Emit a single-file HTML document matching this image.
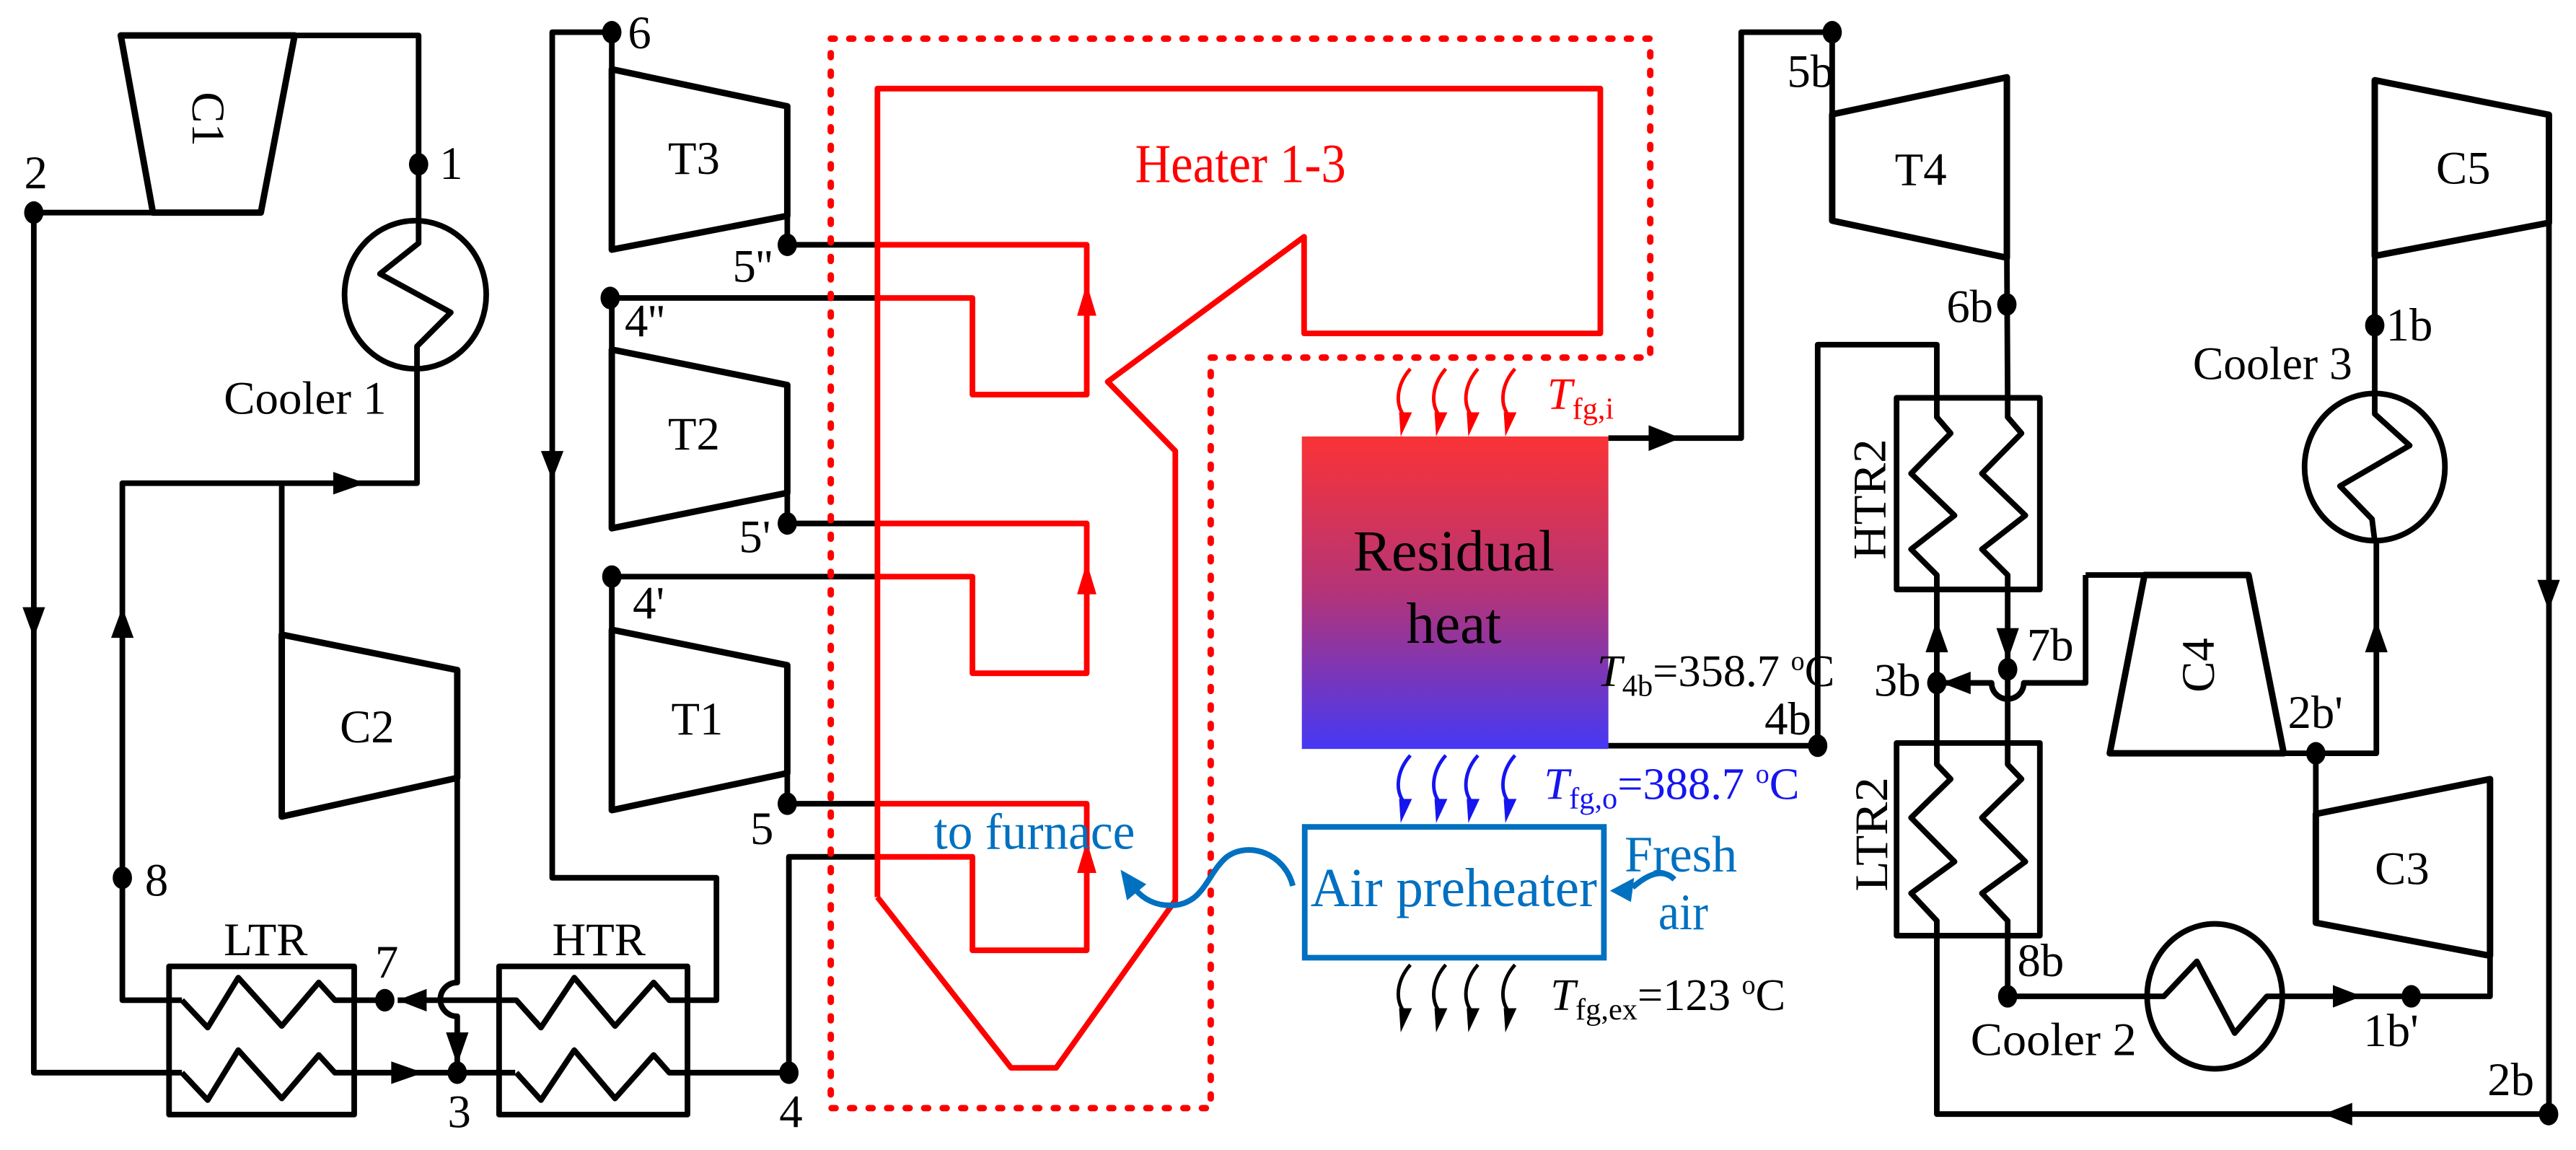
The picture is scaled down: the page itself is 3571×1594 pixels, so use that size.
<!DOCTYPE html>
<html><head><meta charset="utf-8"><style>
html,body{margin:0;padding:0;background:#fff;}
svg{display:block;}
svg text{font-family:"Liberation Serif","DejaVu Serif",serif;}
</style></head><body>
<svg width="3571" height="1594" viewBox="0 0 1600 714" preserveAspectRatio="none" xmlns="http://www.w3.org/2000/svg" font-family="'Liberation Serif', 'DejaVu Serif', serif">
<defs>
<linearGradient id="rg" x1="0" y1="0" x2="0" y2="1">
<stop offset="0" stop-color="#fa3336"/>
<stop offset="0.5" stop-color="#b33478"/>
<stop offset="1" stop-color="#4638f4"/>
</linearGradient>
</defs>
<rect width="1600" height="714" fill="#fff"/>

<g fill="none" stroke="#000" stroke-width="3.5" stroke-linejoin="round">
<polygon points="75,22 183,22 162,132 95,132" stroke-width="4"/>
<polyline points="183,22 260,22 260,138"/>
<polyline points="21,132 95,132"/>
<polyline points="21,132 21,666 113,666"/>
<ellipse cx="258" cy="183" rx="44" ry="46"/>
<polyline points="260,138 260,151 236,170 280,194 259,215 259,300 76,300 76,621 113,621"/>
<line x1="175" y1="300" x2="175" y2="394"/>
<polygon points="175,394 284,416 284,483 175,507" stroke-width="4"/>
<path d="M284 483 V610 A10.5 10.5 0 0 0 284 631 V660"/>
<rect x="105" y="600" width="115" height="92"/>
<polyline points="113,621 129,638 148,607 175,637 198,610 208,621 239,621"/>
<polyline points="113,666 129,683 148,652 175,682 198,655 208,666 320,666"/>
<rect x="310" y="600" width="117" height="92"/>
<polyline points="247,621 320.7,621 336,638 356.7,607 382,637 406,610 415.7,621 445,621 445,545 343,545 343,20 380,20 380,43"/>
<polyline points="320.7,666 336,683 356.7,652 382,682 406,655 415.7,666 490,666 490,532 545,532"/>
<polygon points="380,43 489,66 489,134 380,155" stroke-width="4"/>
<polyline points="489,134 489,152 545,152"/>
<polyline points="545,185 380,185 380,217"/>
<polygon points="380,217 489,239 489,306 380,328" stroke-width="4"/>
<polyline points="489,306 489,325 545,325"/>
<polyline points="545,358 380,358 380,391"/>
<polygon points="380,391 489,413 489,480 380,503" stroke-width="4"/>
<polyline points="489,480 489,499 545,499"/>
</g>
<g fill="#000">
<polygon points="21,396 14,377 28,377"/>
<polygon points="76,377 69,396 83,396"/>
<polygon points="227,300 207,293 207,307"/>
<polygon points="343,298 336,280 350,280"/>
<polygon points="247,621 265,614 265,628"/>
<polygon points="284,661 277,641 291,641"/>
<polygon points="263,666 243,659 243,673"/>
</g>
<g fill="#000">
<ellipse cx="21" cy="132" rx="6" ry="7"/>
<ellipse cx="260" cy="102" rx="6" ry="7"/>
<ellipse cx="380" cy="20" rx="6" ry="7"/>
<ellipse cx="489" cy="152" rx="6" ry="7"/>
<ellipse cx="379" cy="185" rx="6" ry="7"/>
<ellipse cx="489" cy="325" rx="6" ry="7"/>
<ellipse cx="380" cy="358" rx="6" ry="7"/>
<ellipse cx="489" cy="499" rx="6" ry="7"/>
<ellipse cx="76" cy="545" rx="6" ry="7"/>
<ellipse cx="239" cy="621" rx="6" ry="7"/>
<ellipse cx="284" cy="666" rx="6" ry="7"/>
<ellipse cx="490" cy="666" rx="6" ry="7"/>
</g>
<g font-size="29" fill="#000">
<text x="15" y="117">2</text>
<text x="273" y="111">1</text>
<text x="390" y="30">6</text>
<text x="455" y="175">5''</text>
<text x="388" y="209">4''</text>
<text x="459" y="343">5'</text>
<text x="393" y="384">4'</text>
<text x="466" y="524">5</text>
<text x="90" y="556">8</text>
<text x="233" y="607">7</text>
<text x="278" y="700">3</text>
<text x="484" y="700">4</text>
<text x="431" y="108" text-anchor="middle">T3</text>
<text x="431" y="279" text-anchor="middle">T2</text>
<text x="433" y="456" text-anchor="middle">T1</text>
<text x="228" y="461" text-anchor="middle">C2</text>
<text x="165" y="593" text-anchor="middle">LTR</text>
<text x="372" y="593" text-anchor="middle">HTR</text>
<text x="139" y="257" textLength="101" lengthAdjust="spacingAndGlyphs">Cooler 1</text>
<text transform="translate(129.6,74) rotate(90)" x="0" y="10" text-anchor="middle">C1</text>
</g>

<path d="M516 24 H1025 V222 H752 V688 H516 Z" fill="none" stroke="#ff0000" stroke-width="4" stroke-dasharray="2.5 9" stroke-linecap="round"/>
<g fill="none" stroke="#ff0000" stroke-width="3.5" stroke-linejoin="round">
<polyline points="545,557 545,55 994,55 994,207 810,207 810,147 688,237 730,280 730,559 656,663 628,663 545,557"/>
<polyline points="545,152 675,152 675,245 604,245 604,185 545,185"/>
<polyline points="545,325 675,325 675,418 604,418 604,358 545,358"/>
<polyline points="545,499 675,499 675,590 604,590 604,532 545,532"/>
</g>
<g fill="#ff0000">
<polygon points="675,176 669,196 681,196"/>
<polygon points="675,349 669,369 681,369"/>
<polygon points="675,522 669,542 681,542"/>
</g>
<text x="705" y="113" font-size="34" fill="#ff0000" textLength="131" lengthAdjust="spacingAndGlyphs">Heater 1-3</text>

<rect x="808.6" y="271" width="190.4" height="194" fill="url(#rg)"/>
<text x="903" y="354" font-size="36" text-anchor="middle" textLength="125" lengthAdjust="spacingAndGlyphs">Residual</text>
<text x="903" y="399" font-size="36" text-anchor="middle" textLength="59" lengthAdjust="spacingAndGlyphs">heat</text>

<g fill="none" stroke-width="2.2">
<g stroke="#ff0000">
<path d="M876 229 C868 238,866 250,872 258"/>
<path d="M898 229 C890 238,888 250,894 258"/>
<path d="M918 229 C910 238,908 250,914 258"/>
<path d="M941 229 C933 238,931 250,937 258"/>
</g>
<g stroke="#1515f0">
<path d="M876 469 C868 478,866 490,872 498"/>
<path d="M898 469 C890 478,888 490,894 498"/>
<path d="M918 469 C910 478,908 490,914 498"/>
<path d="M941 469 C933 478,931 490,937 498"/>
</g>
<g stroke="#000">
<path d="M876 599 C868 608,866 620,872 628"/>
<path d="M898 599 C890 608,888 620,894 628"/>
<path d="M918 599 C910 608,908 620,914 628"/>
<path d="M941 599 C933 608,931 620,937 628"/>
</g>
</g>
<g fill="#ff0000">
<polygon points="869,256 877,256 870,271"/><polygon points="891,256 899,256 892,271"/><polygon points="911,256 919,256 912,271"/><polygon points="934,256 942,256 935,271"/>
</g>
<g fill="#1515f0">
<polygon points="869,496 877,496 870,511"/><polygon points="891,496 899,496 892,511"/><polygon points="911,496 919,496 912,511"/><polygon points="934,496 942,496 935,511"/>
</g>
<g fill="#000">
<polygon points="869,626 877,626 870,641"/><polygon points="891,626 899,626 892,641"/><polygon points="911,626 919,626 912,641"/><polygon points="934,626 942,626 935,641"/>
</g>
<text x="961" y="254" font-size="28" fill="#ff0000"><tspan font-style="italic">T</tspan><tspan font-size="19" dy="6">fg,i</tspan></text>
<text x="959" y="496" font-size="28" fill="#1515f0"><tspan font-style="italic">T</tspan><tspan font-size="19" dy="6">fg,o</tspan><tspan dy="-6">=388.7 </tspan><tspan font-size="17" dy="-10">o</tspan><tspan dy="10">C</tspan></text>
<text x="963" y="627" font-size="28" fill="#000"><tspan font-style="italic">T</tspan><tspan font-size="19" dy="6">fg,ex</tspan><tspan dy="-6">=123 </tspan><tspan font-size="17" dy="-10">o</tspan><tspan dy="10">C</tspan></text>
<text x="992" y="426" font-size="28" fill="#000"><tspan font-style="italic">T</tspan><tspan font-size="19" dy="6">4b</tspan><tspan dy="-6">=358.7 </tspan><tspan font-size="17" dy="-10">o</tspan><tspan dy="10">C</tspan></text>

<rect x="810.4" y="513.4" width="185.8" height="81.2" fill="none" stroke="#0070c0" stroke-width="3.5"/>
<text x="814" y="562.6" font-size="34" fill="#0070c0" textLength="178" lengthAdjust="spacingAndGlyphs">Air preheater</text>
<text x="580" y="527" font-size="32" fill="#0070c0" textLength="125" lengthAdjust="spacingAndGlyphs">to furnace</text>
<text x="1009" y="541" font-size="32" fill="#0070c0" textLength="70" lengthAdjust="spacingAndGlyphs">Fresh</text>
<text x="1030" y="577" font-size="32" fill="#0070c0" textLength="31" lengthAdjust="spacingAndGlyphs">air</text>
<g fill="none" stroke="#0070c0" stroke-width="3.5">
<path d="M803 550 C798 530,776 522,762 532 C750 542,748 560,730 562 C718 563,710 558,705 552"/>
<path d="M1040 546 C1032 538,1022 544,1014 551"/>
</g>
<g fill="#0070c0">
<polygon points="696,540 712,549 700,559"/>
<polygon points="1000,553 1015,545 1013,560"/>
</g>

<g fill="none" stroke="#000" stroke-width="3.5" stroke-linejoin="round">
<polyline points="999,272 1081.5,272 1081.5,20 1138,20 1138,71"/>
<polygon points="1138,71 1246.5,48 1246.5,160 1138,137" stroke-width="4"/>
<polyline points="1246.5,160 1247,247"/>
<rect x="1178" y="247" width="89" height="119"/>
<polyline points="1129,463 1129,214 1203,214 1203,259 1211.6,269 1187,294 1214,320 1187,341 1203,357 1203,474.6 1211.6,483.7 1187,507.7 1214,535 1187,554.6 1203,571.7 1203,691.7 1583,691.7"/>
<polyline points="1247,247 1247,259 1255.6,269 1231,294 1258,320 1231,341 1247,357 1247,474.6 1255.6,483.7 1231,507.7 1258,535 1231,554.6 1247,571.7 1247,618.6 1344,618.6 1364.5,596.9 1388,641.4 1408,618.6 1546.6,618.6 1546.6,483.7"/>
<rect x="1178" y="461.3" width="89" height="119.6"/>
<polyline points="999,463 1129,463"/>
<path d="M1295.4 357 V424 H1257 A10 10 0 0 1 1237 424 H1206"/>
<polygon points="1332,357 1396.6,357 1418.5,467.7 1310.4,467.7" stroke-width="4"/>
<polyline points="1295.4,357 1332,357"/>
<polyline points="1418.5,467.7 1476,467.7 1476,335"/>
<polygon points="1438.4,505.4 1546.6,483.7 1546.6,593.4 1438.4,572.9" stroke-width="4"/>
<polyline points="1438.4,467.7 1438.4,505.4"/>
<ellipse cx="1375.6" cy="618.6" rx="42" ry="45"/>
<ellipse cx="1475" cy="290" rx="43.6" ry="45.7"/>
<polyline points="1475,160 1475,257 1496.7,276.6 1453.4,301.8 1473.3,322.3 1475,336"/>
<polygon points="1475,49.8 1583.2,71.3 1583.2,138.3 1475,158.9" stroke-width="4"/>
<polyline points="1583.2,138.3 1583.2,691.7"/>
</g>
<g fill="#000">
<polygon points="1044,272 1024,264 1024,280"/>
<polygon points="1203,385 1196,405 1210,405"/>
<polygon points="1206,424 1224,417 1224,431"/>
<polygon points="1247,410 1240,390 1254,390"/>
<polygon points="1476,385 1469,405 1483,405"/>
<polygon points="1467,618.6 1449,611.6 1449,625.6"/>
<polygon points="1443,691.7 1461,684.7 1461,698.7"/>
<polygon points="1583,379 1576,360 1590,360"/>
<ellipse cx="1138" cy="20" rx="6" ry="7"/>
<ellipse cx="1246.5" cy="189" rx="6" ry="7"/>
<ellipse cx="1129" cy="463" rx="6" ry="7"/>
<ellipse cx="1203" cy="424" rx="6" ry="7"/>
<ellipse cx="1247" cy="415.6" rx="6" ry="7"/>
<ellipse cx="1438.4" cy="467.7" rx="6" ry="7"/>
<ellipse cx="1247" cy="618.6" rx="6" ry="7"/>
<ellipse cx="1497.7" cy="618.6" rx="6" ry="7"/>
<ellipse cx="1583" cy="691.7" rx="6" ry="7"/>
<ellipse cx="1475" cy="202" rx="6" ry="7"/>
</g>
<g font-size="29" fill="#000">
<text x="1110" y="54">5b</text>
<text x="1193" y="115" text-anchor="middle">T4</text>
<text x="1209" y="200">6b</text>
<text x="1530" y="114" text-anchor="middle">C5</text>
<text x="1482" y="211.5">1b</text>
<text x="1362" y="235.5" textLength="99" lengthAdjust="spacingAndGlyphs">Cooler 3</text>
<text x="1096" y="456">4b</text>
<text x="1164" y="432">3b</text>
<text x="1259" y="410">7b</text>
<text x="1421" y="452">2b'</text>
<text x="1492" y="549" text-anchor="middle">C3</text>
<text x="1253" y="606">8b</text>
<text x="1468" y="649.5">1b'</text>
<text x="1224" y="655" textLength="103" lengthAdjust="spacingAndGlyphs">Cooler 2</text>
<text x="1545" y="680">2b</text>
<text transform="translate(1171,310) rotate(-90)" x="0" y="0" text-anchor="middle" textLength="75" lengthAdjust="spacingAndGlyphs">HTR2</text>
<text transform="translate(1172,518) rotate(-90)" x="0" y="0" text-anchor="middle" textLength="71" lengthAdjust="spacingAndGlyphs">LTR2</text>
<text transform="translate(1375,413) rotate(-90)" x="0" y="0" text-anchor="middle">C4</text>
</g>
</svg>
</body></html>
